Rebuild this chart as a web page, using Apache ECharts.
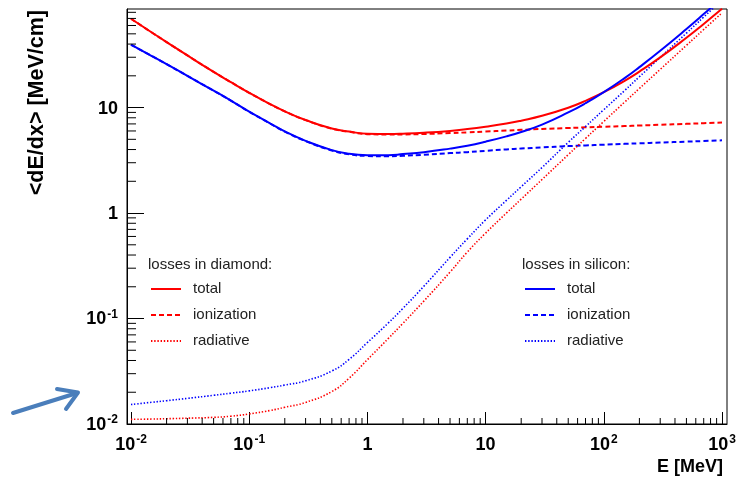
<!DOCTYPE html>
<html>
<head>
<meta charset="utf-8">
<script src="https://cdn.jsdelivr.net/npm/echarts@6/dist/echarts.min.js"></script>
<style>
  html, body { margin: 0; padding: 0; background: #fff; }
  #main { width: 744px; height: 480px; }
</style>
</head>
<body>
<div id="main"></div>
<script>
// energy grid [MeV]
var energy = [0.01, 0.015, 0.02, 0.03, 0.05, 0.07, 0.1, 0.15, 0.2, 0.3, 0.5, 0.7,
  1, 1.5, 2, 3, 5, 7, 10, 15, 20, 30, 50, 70, 100, 150, 200, 300, 500, 700, 1000]

// <dE/dx> in diamond [MeV/cm]
var diamondTotal = [69.5, 51.5, 41.8, 31.2, 21.8, 17.4, 13.8, 10.8, 9.21, 7.62, 6.33, 5.93,
  5.64, 5.61, 5.65, 5.77, 6.01, 6.25, 6.58, 7.05, 7.51, 8.35, 9.97, 11.58, 13.98, 17.95, 21.93, 29.88, 45.91, 62.06, 86.28]
var diamondIon = [69.5, 51.5, 41.8, 31.2, 21.8, 17.4, 13.8, 10.8, 9.2, 7.6, 6.31, 5.9,
  5.6, 5.55, 5.56, 5.62, 5.73, 5.82, 5.93, 6.05, 6.15, 6.27, 6.4, 6.49, 6.58, 6.68, 6.76, 6.87, 7.01, 7.11, 7.21]
var diamondRad = [0.01107, 0.01114, 0.01122, 0.01135, 0.01156, 0.01186, 0.01245, 0.01343, 0.01439, 0.01603, 0.0203, 0.0272,
  0.04074, 0.06457, 0.0902, 0.1462, 0.2754, 0.4266, 0.6457, 1.0, 1.355, 2.08, 3.573, 5.093, 7.396, 11.27, 15.17, 23.01, 38.9, 54.95, 79.07]

// <dE/dx> in silicon [MeV/cm]
var siliconTotal = [39.42, 30.82, 25.82, 19.97, 14.47, 11.66, 9.14, 7.1, 5.94, 4.84, 3.95, 3.64,
  3.54, 3.54, 3.62, 3.77, 4.08, 4.35, 4.75, 5.33, 5.87, 6.89, 8.99, 10.99, 14.0, 19.03, 24.18, 34.56, 55.55, 76.92, 109.59]
var siliconIon = [39.4, 30.8, 25.8, 19.95, 14.45, 11.64, 9.12, 7.08, 5.92, 4.81, 3.92, 3.6,
  3.48, 3.45, 3.49, 3.57, 3.7, 3.78, 3.89, 4.01, 4.09, 4.19, 4.31, 4.38, 4.45, 4.53, 4.58, 4.66, 4.75, 4.82, 4.89]
var siliconRad = [0.0153, 0.01607, 0.01663, 0.0175, 0.0187, 0.0196, 0.0206, 0.0221, 0.0234, 0.0257, 0.0318, 0.041,
  0.0592, 0.0906, 0.125, 0.202, 0.38, 0.569, 0.861, 1.318, 1.778, 2.7, 4.68, 6.61, 9.55, 14.5, 19.6, 29.9, 50.8, 72.1, 104.7]

// axis ranges and tick positions
var xMin = 0.00925, xMax = 1102
var yMin = 0.01, yMax = 86
var minorSteps = [2, 3, 4, 5, 6, 7, 8, 9]
var xDecades = [0.01, 0.1, 1, 10, 100]
var yDecades = [0.01, 0.1, 1, 10]

var font = 'Liberation Sans, Arial, Helvetica, sans-serif'
var red = '#ff0000'
var blue = '#0000ff'

function pairs(vals) {
  return energy.map(function (e, i) { return [e, vals[i]] })
}

function powLabel(v) {
  var p = Math.log10(v)
  var r = Math.round(p)
  if (Math.abs(p - r) > 1e-6) return ''
  if (r === 0) return '{b|1}'
  if (r === 1) return '{b|10}'
  return '{b|10}{s|' + r + '}'
}

var labelRich = {
  b: { fontSize: 18, fontWeight: 'bold', fontFamily: font, color: '#000', lineHeight: 20, verticalAlign: 'bottom' },
  s: { fontSize: 12, fontWeight: 'bold', fontFamily: font, color: '#000', lineHeight: 12, verticalAlign: 'top', padding: [0, 0, 0, 1] }
}

// minor ticks: 2..9 times each decade
var xMinor = []
xDecades.forEach(function (d) {
  minorSteps.forEach(function (m) { xMinor.push([d * m, yMin]) })
})
var yMinor = []
yDecades.forEach(function (d) {
  minorSteps.forEach(function (m) { if (d * m < yMax) yMinor.push([xMin, d * m]) })
})

function lineSeries(name, vals, color, type, width, z) {
  return {
    name: name,
    type: 'line',
    data: pairs(vals),
    symbol: 'none',
    smooth: 0.5,
    z: z,
    lineStyle: { color: color, width: width, type: type },
    itemStyle: { color: color },
    emphasis: { disabled: true }
  }
}

function legendBlock(left, names) {
  return {
    orient: 'vertical', left: left, top: 281, padding: 0,
    data: names,
    itemWidth: 30, itemHeight: 14, itemGap: 10,
    selectedMode: false,
    itemStyle: { opacity: 0, color: 'rgba(0,0,0,0)', borderWidth: 0 },
    formatter: function (name) { return name.split(' ')[1] },
    textStyle: { fontSize: 15, color: '#222', fontFamily: font, lineHeight: 16, padding: [0, 0, 0, 7] }
  }
}

var dotted = [1.4, 1.8]
var dashed = [5, 3]

var myChart = echarts.init(document.getElementById('main'))
var option = {
  backgroundColor: '#fff',
  animation: false,
  grid: {
    left: 127, right: 17, top: 9, bottom: 56,
    show: true, borderColor: '#000', borderWidth: 1
  },
  xAxis: {
    type: 'log',
    logBase: 10,
    min: xMin,
    max: xMax,
    axisLine: { show: true, lineStyle: { color: '#000', width: 1 } },
    axisTick: { show: true, inside: true, length: 12, lineStyle: { color: '#000', width: 1 } },
    axisLabel: {
      formatter: powLabel, rich: labelRich, margin: 10,
      showMinLabel: false, showMaxLabel: false
    },
    splitLine: { show: false }
  },
  yAxis: {
    type: 'log',
    logBase: 10,
    min: yMin,
    max: yMax,
    axisLine: { show: true, lineStyle: { color: '#000', width: 1 } },
    axisTick: { show: true, inside: true, length: 17, lineStyle: { color: '#000', width: 1 } },
    axisLabel: {
      formatter: powLabel, rich: labelRich, margin: 9,
      showMinLabel: true, showMaxLabel: false
    },
    splitLine: { show: false }
  },
  legend: [
    legendBlock(150, ['diamond total', 'diamond ionization', 'diamond radiative']),
    legendBlock(524, ['silicon total', 'silicon ionization', 'silicon radiative'])
  ],
  graphic: [
    {
      type: 'text', left: 148, top: 257,
      style: { text: 'losses in diamond:', font: '15px ' + font, fill: '#222' }
    },
    {
      type: 'text', left: 522, top: 257,
      style: { text: 'losses in silicon:', font: '15px ' + font, fill: '#222' }
    },
    {
      type: 'text', x: 37, y: 10, rotation: Math.PI / 2,
      style: { text: '<dE/dx> [MeV/cm]', font: 'bold 21.5px ' + font, fill: '#000', align: 'right', verticalAlign: 'middle' }
    },
    {
      type: 'text', x: 723, y: 467,
      style: { text: 'E [MeV]', font: 'bold 18px ' + font, fill: '#000', align: 'right', verticalAlign: 'middle' }
    },
    // annotation arrow
    {
      type: 'line', shape: { x1: 13, y1: 413, x2: 77, y2: 393 },
      style: { stroke: '#4a7ebb', lineWidth: 4, lineCap: 'round' }
    },
    {
      type: 'polyline', shape: { points: [[57, 389], [78, 392.5], [66, 409]] },
      style: { stroke: '#4a7ebb', lineWidth: 4, fill: null, lineCap: 'round', lineJoin: 'round' }
    }
  ],
  series: [
    lineSeries('diamond ionization', diamondIon, red, dashed, 2, 2),
    lineSeries('silicon ionization', siliconIon, blue, dashed, 2, 2),
    lineSeries('diamond radiative', diamondRad, red, dotted, 1.6, 2),
    lineSeries('silicon radiative', siliconRad, blue, dotted, 1.6, 2),
    lineSeries('diamond total', diamondTotal, red, 'solid', 2, 3),
    lineSeries('silicon total', siliconTotal, blue, 'solid', 2, 3),
    {
      name: 'x minor ticks',
      type: 'custom',
      silent: true,
      data: xMinor,
      renderItem: function (params, api) {
        var p = api.coord([api.value(0), yMin])
        return {
          type: 'line',
          shape: { x1: p[0], y1: p[1], x2: p[0], y2: p[1] - 6 },
          style: { stroke: '#000', lineWidth: 1 }
        }
      },
      z: 5
    },
    {
      name: 'y minor ticks',
      type: 'custom',
      silent: true,
      data: yMinor,
      renderItem: function (params, api) {
        var p = api.coord([xMin, api.value(1)])
        return {
          type: 'line',
          shape: { x1: p[0], y1: p[1], x2: p[0] + 9, y2: p[1] },
          style: { stroke: '#000', lineWidth: 1 }
        }
      },
      z: 5
    }
  ]
}
myChart.setOption(option)
</script>
</body>
</html>
